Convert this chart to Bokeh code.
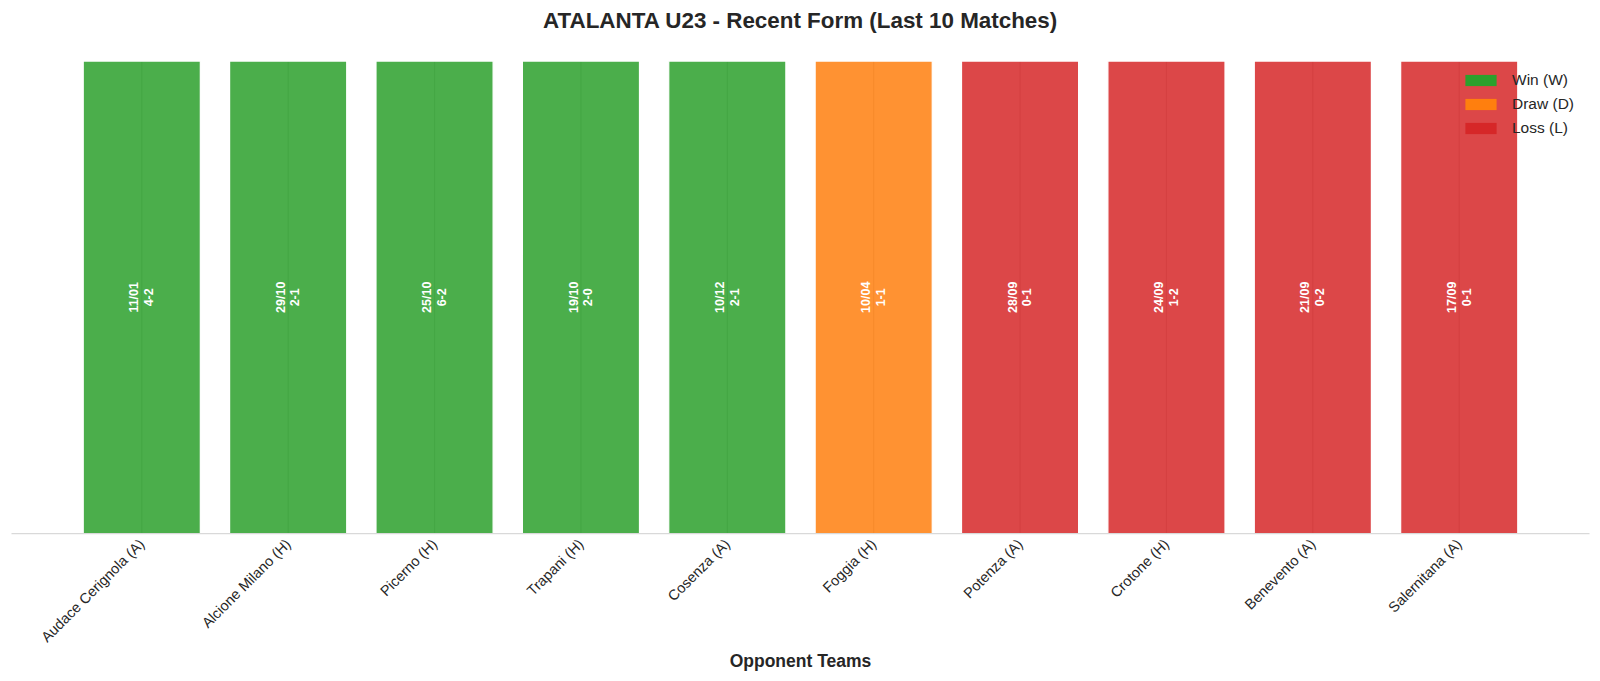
import math
from bokeh.plotting import figure
from bokeh.models import ColumnDataSource, Legend, LegendItem, FixedTicker, Range1d
from bokeh.core.properties import value
from bokeh.embed import file_html
from bokeh.resources import INLINE

FONT = "Liberation Sans"

teams = ["Audace Cerignola (A)", "Alcione Milano (H)", "Picerno (H)", "Trapani (H)",
         "Cosenza (A)", "Foggia (H)", "Potenza (A)", "Crotone (H)", "Benevento (A)",
         "Salernitana (A)"]
dates = ["11/01", "29/10", "25/10", "19/10", "10/12", "10/04", "28/09", "24/09", "21/09", "17/09"]
scores = ["4-2", "2-1", "6-2", "2-0", "2-1", "1-1", "0-1", "1-2", "0-2", "0-1"]
results = ["W", "W", "W", "W", "W", "D", "L", "L", "L", "L"]
bar_height = [1, 1, 1, 1, 1, 1, 1, 1, 1, 1]

colors = {"W": "#2ca02c", "D": "#ff7f0e", "L": "#d62728"}
labels = {"W": "Win (W)", "D": "Draw (D)", "L": "Loss (L)"}

xs = list(range(len(teams)))
src = ColumnDataSource(dict(
    x=xs,
    top=bar_height,
    mid=[h / 2 for h in bar_height],
    color=[colors[r] for r in results],
    txt=[d + "\n" + s for d, s in zip(dates, scores)],
))

p = figure(width=1592, height=673, output_backend="svg", toolbar_location=None,
           x_range=Range1d(-0.89, len(teams) - 1 + 0.89), y_range=Range1d(0, 1.05),
           min_border_left=11, min_border_right=3, min_border_top=0, min_border_bottom=0)

p.title.text = "ATALANTA U23 - Recent Form (Last 10 Matches)"
p.title.align = "center"
p.title.text_font = FONT
p.title.text_font_size = "22.4px"
p.title.text_font_style = "bold"
p.title.text_color = "#262626"
p.title.padding = 3
p.title.standoff = 4

p.outline_line_color = None
p.ygrid.visible = False
p.xgrid.visible = False
p.yaxis.visible = False

# faint vertical guide behind each bar
p.segment(x0="x", x1="x", y0=0, y1="top", source=src, line_color="#cccccc", line_width=1.25)

p.vbar(x="x", top="top", bottom=0, width=0.8, source=src, fill_color="color",
       fill_alpha=0.85, line_color="white", line_width=1.2)

p.text(x="x", y="mid", text="txt", source=src, angle=math.pi / 2, text_align="center",
       text_baseline="middle", text_color="white", text_font=value(FONT),
       text_font_size="12.5px", text_font_style="bold", text_line_height=1.05)

xa = p.xaxis[0]
xa.ticker = FixedTicker(ticks=xs)
xa.major_label_overrides = {i: t for i, t in enumerate(teams)}
xa.major_label_orientation = math.pi / 4
xa.major_label_text_font = FONT
xa.major_label_text_font_size = "14.5px"
xa.major_label_text_color = "#262626"
xa.major_label_standoff = 2
xa.major_tick_line_color = None
xa.minor_tick_line_color = None
xa.axis_line_color = "#d9d9d9"
xa.axis_line_width = 1.25
xa.axis_label = "Opponent Teams"
xa.axis_label_text_font = FONT
xa.axis_label_text_font_size = "17.5px"
xa.axis_label_text_font_style = "bold"
xa.axis_label_text_color = "#262626"
xa.axis_label_standoff = -3

# legend swatches: zero-size bars carrying only the legend colours
items = []
for r in ["W", "D", "L"]:
    sw = p.vbar(x=[0], top=[0], bottom=[0], width=0, fill_color=colors[r], line_color=None)
    items.append(LegendItem(label=labels[r], renderers=[sw]))

legend = Legend(items=items, location=(1450, 396), padding=0, margin=0,
                glyph_width=39, glyph_height=14, label_height=17, spacing=6,
                label_standoff=12, label_text_font=FONT, label_text_font_size="15.5px",
                label_text_color="#262626", border_line_alpha=0, background_fill_alpha=0)
p.add_layout(legend)

open("out.html", "w").write(file_html(p, INLINE))
